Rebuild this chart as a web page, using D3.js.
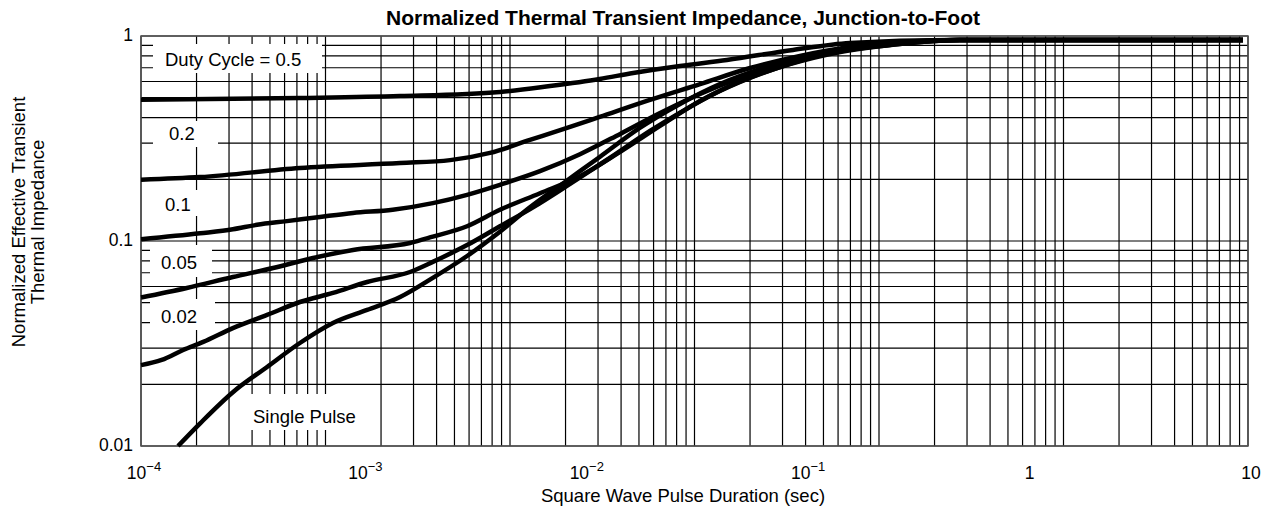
<!DOCTYPE html>
<html>
<head>
<meta charset="utf-8">
<script src="https://cdn.jsdelivr.net/npm/d3@7"></script>
<style>
  body { margin: 0; background: #fff; }
  text { font-family: "Liberation Sans", Arial, Helvetica, sans-serif; fill: #000; }
</style>
</head>
<body>
<div id="chart"></div>
<script>
// axis ticks
var xTicks = [1e-4, 1e-3, 1e-2, 1e-1, 1, 10];
var yTicks = [0.01, 0.1, 1];

// [pulse duration (s), normalized Zth]
var duty05 = [[1e-4, 0.488], [5.22e-4, 0.498], [1.48e-3, 0.509], [4.18e-3, 0.533], [7.04e-3, 0.570],
  [1.18e-2, 0.617], [1.67e-2, 0.66], [2.72e-2, 0.714], [4.43e-2, 0.764], [8.81e-2, 0.855],
  [0.159, 0.924], [0.451, 0.956], [9.49, 0.956]];
var duty02 = [[1e-4, 0.199], [1.85e-4, 0.205], [5.22e-4, 0.227], [1.48e-3, 0.240], [2.49e-3, 0.248],
  [3.77e-3, 0.269], [5.71e-3, 0.311], [8.40e-3, 0.356], [1.18e-2, 0.403], [1.99e-2, 0.488],
  [3.35e-2, 0.583], [5.64e-2, 0.698], [9.47e-2, 0.799], [0.159, 0.883], [0.268, 0.935],
  [0.5, 0.956], [9.49, 0.956]];
var duty01 = [[1e-4, 0.102], [1.85e-4, 0.109], [2.60e-4, 0.114], [3.34e-4, 0.120], [4.56e-4, 0.125],
  [6.43e-4, 0.131], [9.07e-4, 0.137], [1.37e-3, 0.142], [2.08e-3, 0.153], [2.97e-3, 0.168],
  [4.18e-3, 0.188], [6.34e-3, 0.219], [9.61e-3, 0.265], [1.46e-2, 0.333], [2.21e-2, 0.421],
  [3.35e-2, 0.521], [5.08e-2, 0.624], [8.53e-2, 0.747], [0.144, 0.845], [0.268, 0.924],
  [0.5, 0.956], [9.49, 0.956]];
var duty005 = [[1e-4, 0.053], [1.61e-4, 0.059], [2.60e-4, 0.0667], [3.95e-4, 0.0738], [5.98e-4, 0.0826],
  [9.07e-4, 0.0904], [1.64e-3, 0.0978], [2.08e-3, 0.105], [2.97e-3, 0.118], [4.18e-3, 0.142],
  [6.34e-3, 0.171], [9.61e-3, 0.207], [1.46e-2, 0.272], [2.21e-2, 0.364], [3.35e-2, 0.482],
  [5.08e-2, 0.597], [8.53e-2, 0.729], [0.144, 0.836], [0.268, 0.914], [0.5, 0.956], [9.49, 0.956]];
var duty002 = [[1e-4, 0.0248], [1.24e-4, 0.0263], [1.55e-4, 0.0294], [1.91e-4, 0.0322], [2.60e-4, 0.0376],
  [3.71e-4, 0.0436], [5.22e-4, 0.0504], [7.36e-4, 0.0558], [1.05e-3, 0.0631], [1.64e-3, 0.0706],
  [2.08e-3, 0.0791], [2.97e-3, 0.0955], [4.18e-3, 0.118], [5.90e-3, 0.146], [8.67e-3, 0.190],
  [1.31e-2, 0.254], [1.99e-2, 0.344], [3.02e-2, 0.451], [4.57e-2, 0.570], [7.69e-2, 0.706],
  [0.129, 0.826], [0.242, 0.904], [0.5, 0.956], [9.49, 0.956]];
var singlePulse = [[1.47e-4, 0.01], [1.85e-4, 0.0129], [2.60e-4, 0.0183], [3.71e-4, 0.0243], [5.22e-4, 0.0318],
  [7.36e-4, 0.0398], [1.05e-3, 0.0461], [1.48e-3, 0.0533], [2.08e-3, 0.0661], [2.97e-3, 0.0845],
  [4.18e-3, 0.111], [5.71e-3, 0.146], [8.22e-3, 0.194], [1.18e-2, 0.257], [1.79e-2, 0.356],
  [2.72e-2, 0.466], [4.12e-2, 0.583], [6.93e-2, 0.714], [0.117, 0.826], [0.218, 0.904],
  [0.5, 0.956], [9.49, 0.956]];

var curveNames = ["Duty Cycle = 0.5", "0.2", "0.1", "0.05", "0.02", "Single Pulse"];


ThermalChart = function (_parentElement) {
    this.parentElement = _parentElement;
    this.width = 1267;
    this.height = 509;
    this.initVis();
}

/*
 *  Scales, svg, grid
 */
ThermalChart.prototype.initVis = function () {
    var vis = this;
    vis.left = 141; vis.right = 1248; vis.top = 36; vis.bottom = 446;

    vis.x = d3.scaleLog().domain([1e-4, 10]).range([vis.left, vis.right]);
    vis.y = d3.scaleLog().domain([0.01, 1]).range([vis.bottom, vis.top]);
    // the printed grid behind the curves has six decades, not five
    vis.gridX = d3.scaleLog().domain([1, 1e6]).range([vis.left, vis.right]);

    vis.svg = d3.select("#" + vis.parentElement)
        .append("svg")
        .attr("width", vis.width)
        .attr("height", vis.height);

    vis.svg.append("rect").attr("width", vis.width).attr("height", vis.height).attr("fill", "#fff");

    vis.wrangleData();
}

ThermalChart.prototype.wrangleData = function () {
    var vis = this;
    vis.displayData = [duty05, duty02, duty01, duty005, duty002, singlePulse];
    vis.updateVis();
}

/*
 *  The drawing function
 */
ThermalChart.prototype.updateVis = function () {
    var vis = this;

    var grid = vis.svg.append("g").attr("stroke", "#000").attr("stroke-width", 1.2);
    grid.selectAll(".vline")
        .data(vis.gridX.ticks())
        .enter().append("line")
        .attr("x1", function (d) { return vis.gridX(d); })
        .attr("x2", function (d) { return vis.gridX(d); })
        .attr("y1", vis.top).attr("y2", vis.bottom);
    grid.selectAll(".hline")
        .data(vis.y.ticks())
        .enter().append("line")
        .attr("x1", vis.left).attr("x2", vis.right)
        .attr("y1", function (d) { return vis.y(d); })
        .attr("y2", function (d) { return vis.y(d); });

    vis.svg.append("rect")
        .attr("x", vis.left).attr("y", vis.top)
        .attr("width", vis.right - vis.left).attr("height", vis.bottom - vis.top)
        .attr("fill", "none").attr("stroke", "#555").attr("stroke-width", 1.5);

    // white label boxes knock out the grid
    var boxes = [
        {x: 153, y: 44, w: 169, h: 29, tx: 165, ty: 66},
        {x: 153, y: 121, w: 65, h: 26, tx: 169, ty: 140},
        {x: 153, y: 190, w: 65, h: 26, tx: 165, ty: 211},
        {x: 150, y: 245, w: 62, h: 32, tx: 161, ty: 269},
        {x: 150, y: 299, w: 65, h: 31, tx: 161, ty: 323},
        {x: 243, y: 394, w: 122, h: 36, tx: 253, ty: 423}
    ];
    vis.svg.selectAll(".box")
        .data(boxes)
        .enter().append("rect")
        .attr("x", function (d) { return d.x; })
        .attr("y", function (d) { return d.y; })
        .attr("width", function (d) { return d.w; })
        .attr("height", function (d) { return d.h; })
        .attr("fill", "#fff");

    var line = d3.line()
        .x(function (d) { return vis.x(d[0]); })
        .y(function (d) { return vis.y(d[1]); })
        .curve(d3.curveMonotoneX);

    vis.svg.append("g")
        .selectAll("path")
        .data(vis.displayData)
        .enter().append("path")
        .attr("d", line)
        .attr("fill", "none")
        .attr("stroke", "#000")
        .attr("stroke-width", 4.5)
        .attr("stroke-linejoin", "round");

    vis.svg.selectAll(".clabel")
        .data(boxes)
        .enter().append("text")
        .attr("x", function (d) { return d.tx; })
        .attr("y", function (d) { return d.ty; })
        .attr("font-size", 18.5)
        .text(function (d, i) { return curveNames[i]; });

    // y tick labels
    vis.svg.selectAll(".ytick")
        .data(yTicks)
        .enter().append("text")
        .attr("x", 133)
        .attr("y", function (d) { return vis.y(d); })
        .attr("text-anchor", "end")
        .attr("dominant-baseline", "middle")
        .attr("font-size", 17.5)
        .text(function (d) { return d; });

    // x tick labels, powers of ten with superscripts
    vis.svg.selectAll(".xtick")
        .data(xTicks)
        .enter().append("text")
        .attr("x", function (d) { return vis.x(d) + 3; })
        .attr("y", 479)
        .attr("text-anchor", "middle")
        .attr("font-size", 17.5)
        .each(function (d) {
            var e = Math.round(Math.log10(d));
            var t = d3.select(this);
            if (e >= 0) { t.text(String(Math.pow(10, e))); return; }
            t.text("10");
            t.append("tspan").attr("dy", -8).attr("font-size", 13).text("\u2212" + (-e));
        });

    vis.svg.append("text")
        .attr("x", 683).attr("y", 25)
        .attr("text-anchor", "middle")
        .attr("font-size", 21).attr("font-weight", "bold")
        .text("Normalized Thermal Transient Impedance, Junction-to-Foot");

    vis.svg.append("text")
        .attr("x", 683).attr("y", 502)
        .attr("text-anchor", "middle")
        .attr("font-size", 18.5)
        .text("Square Wave Pulse Duration (sec)");

    var yTitle = vis.svg.append("text")
        .attr("transform", "translate(25,222) rotate(-90)")
        .attr("text-anchor", "middle")
        .attr("font-size", 18.5);
    yTitle.append("tspan").attr("x", 0).attr("dy", 0).text("Normalized Effective Transient");
    yTitle.append("tspan").attr("x", 0).attr("dy", 19).text("Thermal Impedance");
}

new ThermalChart("chart");
</script>
</body>
</html>
